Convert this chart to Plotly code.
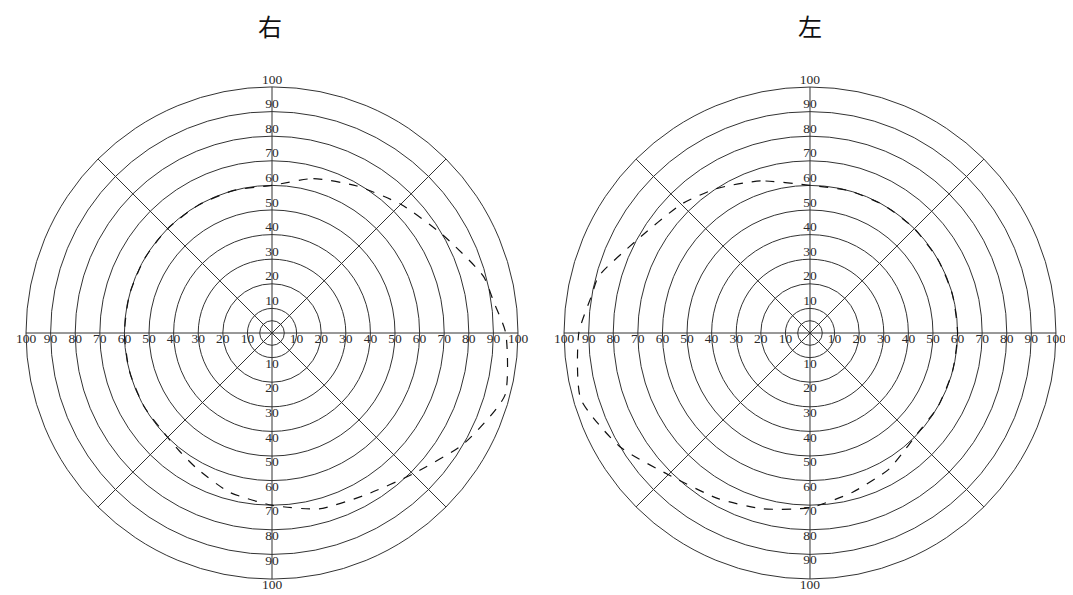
import plotly.graph_objects as go

# visual field readings (angle in degrees, 0 = right, counter-clockwise; radius in degrees of field)
right_theta = [90, 75, 60, 45, 30, 15, 8, 0, 345, 330, 315, 300, 285, 270, 255, 241, 232,
               225, 210, 195, 180, 165, 150, 135, 120, 105, 90]
right_r = [60, 65, 69, 74, 80, 89, 91, 95, 98, 90, 81, 76, 74, 70, 67, 63, 61,
           60, 60, 60, 60, 60, 60, 60, 60, 60, 60]

left_theta = [90, 108, 123, 135, 152, 165, 170, 180, 196, 211, 226, 241, 255, 270, 285, 300, 310,
              315, 330, 345, 0, 15, 30, 45, 60, 75, 90]
left_r = [60, 65, 70, 74, 80, 89, 90, 94, 97, 90, 81, 77, 74, 71, 67, 64, 61,
          60, 60, 60, 60, 60, 60, 60, 60, 60, 60]

ring_vals = [5, 10, 20, 30, 40, 50, 60, 70, 80, 90]
label_vals = [10, 20, 30, 40, 50, 60, 70, 80, 90, 100]
titles = ["右", "左"]

GRID = "#333333"
LABEL_FONT = dict(family="Liberation Serif", size=13.5, color="#2a2a2a")

fig = go.Figure()

panels = [("polar", right_theta, right_r), ("polar2", left_theta, left_r)]
for sub, th, rr in panels:
    # tick labels along the horizontal and vertical axes
    for ang, pos in [(0, "bottom center"), (180, "bottom center"),
                     (90, "top center"), (270, "bottom center")]:
        fig.add_trace(go.Scatterpolar(
            r=label_vals, theta=[ang] * len(label_vals),
            text=[str(v) for v in label_vals],
            mode="text", textposition=pos, textfont=LABEL_FONT,
            cliponaxis=False, showlegend=False, hoverinfo="skip",
            subplot=sub
        ))
    # field boundary
    fig.add_trace(go.Scatterpolar(
        r=rr, theta=th, mode="lines",
        line=dict(color="#111111", width=1.2, dash="dash", shape="spline", smoothing=0.6),
        showlegend=False, subplot=sub
    ))

polar_common = dict(
    bgcolor="white",
    radialaxis=dict(range=[0, 100], tickvals=ring_vals, showticklabels=False,
                    ticks="", showline=False, gridcolor=GRID, gridwidth=1),
    angularaxis=dict(rotation=0, direction="counterclockwise", dtick=45,
                     showticklabels=False, ticks="", showline=True,
                     linecolor=GRID, linewidth=1, gridcolor=GRID, gridwidth=1),
)

# page body has an 8px margin, so the figure is sized to the visible area
fig.update_layout(
    polar=dict(domain=dict(x=[0.0169, 0.4789], y=[0, 1]), **polar_common),
    polar2=dict(domain=dict(x=[0.5221, 0.9840], y=[0, 1]), **polar_common),
    paper_bgcolor="white",
    width=1065, height=587,
    margin=dict(l=0, r=0, t=79, b=16),
    showlegend=False,
)

for i, t in enumerate(titles):
    fig.add_annotation(
        text=t, x=[0.246, 0.753][i], y=1.126, xref="paper", yref="paper",
        showarrow=False, xanchor="center", yanchor="middle",
        font=dict(family="Noto Sans CJK JP", size=24, color="#111111")
    )

fig.write_html("out.html")
